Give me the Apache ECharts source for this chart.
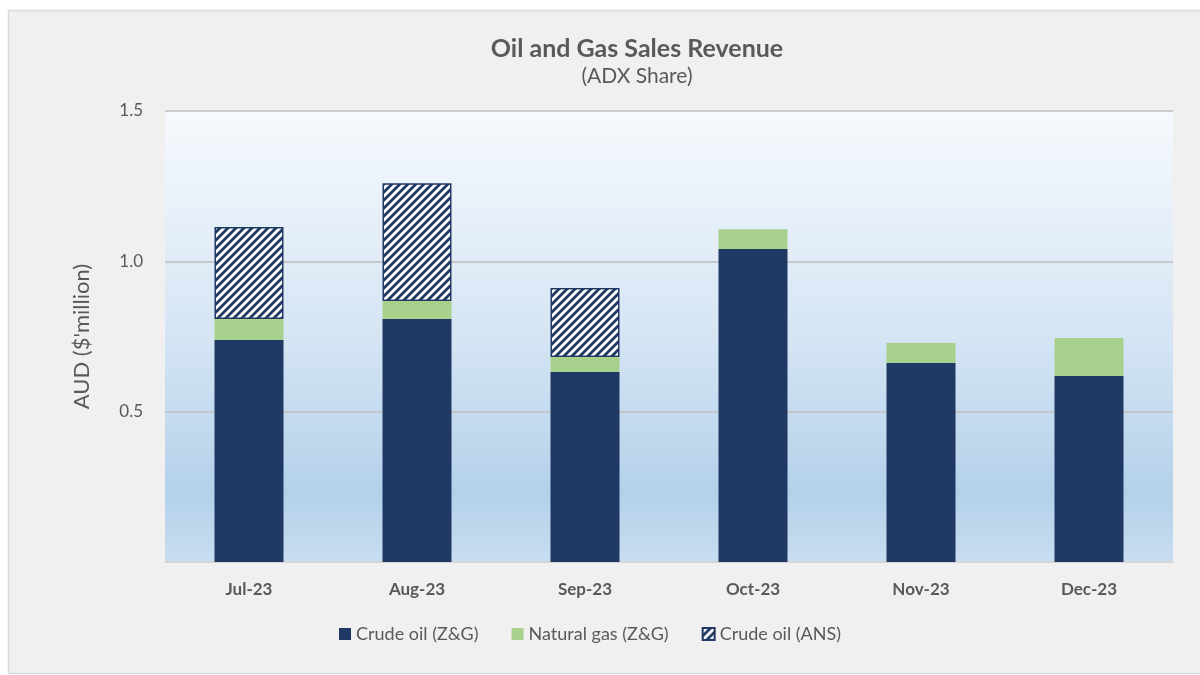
<!DOCTYPE html>
<html>
<head>
<meta charset="utf-8">
<script src="https://cdn.jsdelivr.net/npm/echarts@6/dist/echarts.min.js"></script>
<style>
html,body{margin:0;padding:0;background:#fff;}
#box{width:1200px;height:675px;}
</style>
</head>
<body>
<div id="box"></div>
<script>
var months = ['Jul-23','Aug-23','Sep-23','Oct-23','Nov-23','Dec-23'];
var crudeZG = [0.738, 0.808, 0.632, 1.041, 0.662, 0.619];
var gasZG = [0.070, 0.060, 0.050, 0.066, 0.066, 0.126];
var crudeANS = [0.306, 0.392, 0.229, null, null, null];
var yTicks = [0.5, 1.0, 1.5];

// hatch fill for ANS crude (lines x+y = 0, n, 2n so the tile repeats cleanly)
function hatch(){
	var n = 8;
	var c = document.createElement('canvas');
	c.width = n; c.height = n;
	var g = c.getContext('2d');
	g.fillStyle = '#ffffff';
	g.fillRect(0,0,n,n);
	g.strokeStyle = '#203864';
	g.lineWidth = 2.8;
	g.beginPath();
	g.moveTo(-3,n+3); g.lineTo(n+3,-3);
	g.moveTo(-3,3); g.lineTo(3,-3);
	g.moveTo(n-3,n+3); g.lineTo(n+3,n-3);
	g.stroke();
	return {image: c, repeat: 'repeat'};
}

var font = 'Lato, "Open Sans", sans-serif';
var chart = echarts.init(document.getElementById('box'));
chart.setOption({
	animation: false,
	backgroundColor: '#ffffff',
	textStyle: {fontFamily: font},
	graphic: [{
		type: 'rect', z: -10,
		shape: {x: 8.5, y: 10.5, width: 1200, height: 663},
		style: {fill: '#f0f0f0', stroke: '#d9d9d9', lineWidth: 1.5}
	}],
	title: {
		text: 'Oil and Gas Sales Revenue',
		subtext: '(ADX Share)',
		left: 632, top: 31, textAlign: 'center', itemGap: 5,
		textStyle: {fontSize: 25, fontWeight: 'bold', color: '#595959', fontFamily: font},
		subtextStyle: {fontSize: 21, color: '#595959', fontFamily: font}
	},
	legend: {
		left: 334, top: 620, icon: 'rect',
		itemWidth: 12, itemHeight: 12, itemGap: 33,
		textStyle: {fontSize: 18, color: '#595959', fontFamily: font},
		data: ['Crude oil (Z&G)','Natural gas (Z&G)','Crude oil (ANS)']
	},
	grid: {
		left: 165, right: 27, top: 111, bottom: 113,
		show: true, borderWidth: 0,
		backgroundColor: new echarts.graphic.LinearGradient(0,0,0,1,[
			{offset: 0, color: '#f6f9fd'},
			{offset: 0.5, color: '#d5e5f4'},
			{offset: 0.85, color: '#b4d1ea'},
			{offset: 1, color: '#c8ddf0'}
		])
	},
	xAxis: {
		type: 'category',
		data: months,
		axisLine: {lineStyle: {color: '#d9d9d9', width: 1.5}},
		axisTick: {show: false},
		axisLabel: {fontSize: 17, fontWeight: 'bold', color: '#595959', margin: 19, fontFamily: font}
	},
	yAxis: {
		type: 'value',
		min: 0, max: 1.5, interval: 0.5,
		name: 'AUD ($\'million)',
		nameLocation: 'middle', nameGap: 72, nameRotate: 90,
		nameTextStyle: {fontSize: 22, color: '#595959', fontFamily: font},
		axisLine: {show: false},
		axisTick: {show: false},
		axisLabel: {
			fontSize: 17, color: '#595959', margin: 22, fontFamily: font,
			formatter: function(v){ return yTicks.indexOf(v) >= 0 ? v.toFixed(1) : ''; }
		},
		splitLine: {lineStyle: {color: '#bfbfbf', width: 1.5}}
	},
	series: [{
		name: 'Crude oil (Z&G)', type: 'bar', stack: 'r', barWidth: 69,
		itemStyle: {color: '#203864'},
		data: crudeZG
	},{
		name: 'Natural gas (Z&G)', type: 'bar', stack: 'r', barWidth: 69,
		itemStyle: {color: '#a9d18e'},
		data: gasZG
	},{
		name: 'Crude oil (ANS)', type: 'bar', stack: 'r', barWidth: 69,
		itemStyle: {color: hatch(), borderColor: '#203864', borderWidth: 1.5},
		data: crudeANS
	}]
});
</script>
</body>
</html>
